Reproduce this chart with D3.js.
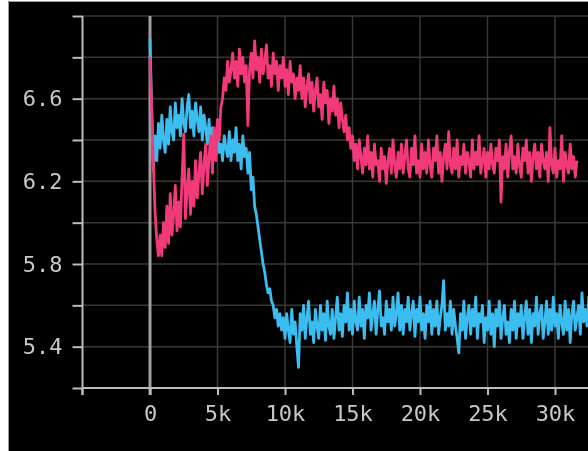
<!DOCTYPE html>
<html>
<head>
  <meta charset="utf-8"/>
  <script src="https://d3js.org/d3.v7.min.js"></script>
  <style>
    html, body {
      margin: 0;
      padding: 0;
      background: #fff;
      overflow: hidden;
    }
    svg { display: block; filter: blur(0.5px); }
    .tick text {
      font-family: "DejaVu Sans Mono", monospace;
      font-size: 22px;
      fill: #c8c8c8;
    }
  </style>
</head>
<body>
  <div id="chart"></div>
  <script>
    // logged every 125 steps
    const stepSize = 125;

    // pink run
    const pinkValues = [
      6.80, 6.55, 6.28, 6.05, 5.92, 5.84, 5.94, 5.84, 6.00, 5.88,
      6.08, 5.90, 6.14, 5.94, 6.04, 6.18, 5.96, 6.10, 5.98, 6.22,
      6.43, 6.02, 6.16, 6.26, 6.04, 6.20, 6.08, 6.30, 6.12, 6.24,
      6.34, 6.14, 6.28, 6.38, 6.18, 6.32, 6.42, 6.24, 6.46, 6.30,
      6.50, 6.40, 6.56, 6.60, 6.70, 6.64, 6.78, 6.68, 6.74, 6.82,
      6.70, 6.78, 6.66, 6.84, 6.72, 6.80, 6.68, 6.76, 6.47, 6.74,
      6.82, 6.70, 6.88, 6.74, 6.80, 6.68, 6.84, 6.72, 6.78, 6.86,
      6.70, 6.76, 6.66, 6.82, 6.72, 6.78, 6.64, 6.76, 6.70, 6.80,
      6.66, 6.74, 6.62, 6.78, 6.68, 6.72, 6.60, 6.70, 6.64, 6.76,
      6.60, 6.70, 6.56, 6.66, 6.72, 6.58, 6.68, 6.54, 6.64, 6.70,
      6.56, 6.62, 6.50, 6.68, 6.58, 6.64, 6.48, 6.60, 6.54, 6.66,
      6.52, 6.60, 6.46, 6.58, 6.50, 6.44, 6.52, 6.40, 6.46, 6.36,
      6.42, 6.30, 6.38, 6.26, 6.40, 6.32, 6.24, 6.36, 6.28, 6.42,
      6.26, 6.34, 6.22, 6.38, 6.28, 6.30, 6.20, 6.36, 6.26, 6.32,
      6.19, 6.30, 6.36, 6.24, 6.40, 6.28, 6.22, 6.34, 6.26, 6.38,
      6.24, 6.32, 6.40, 6.26, 6.22, 6.36, 6.28, 6.42, 6.24, 6.30,
      6.22, 6.38, 6.26, 6.34, 6.24, 6.40, 6.28, 6.22, 6.36, 6.30,
      6.42, 6.24, 6.34, 6.20, 6.32, 6.38, 6.26, 6.44, 6.28, 6.24,
      6.36, 6.26, 6.40, 6.22, 6.32, 6.28, 6.38, 6.24, 6.34, 6.30,
      6.22, 6.40, 6.26, 6.34, 6.28, 6.42, 6.24, 6.30, 6.36, 6.22,
      6.34, 6.26, 6.38, 6.28, 6.24, 6.36, 6.30, 6.40, 6.10, 6.32,
      6.26, 6.38, 6.22, 6.34, 6.42, 6.26, 6.32, 6.24, 6.38, 6.28,
      6.22, 6.36, 6.30, 6.40, 6.24, 6.34, 6.20, 6.32, 6.38, 6.26,
      6.34, 6.22, 6.38, 6.30, 6.26, 6.34, 6.20, 6.46, 6.28, 6.24,
      6.36, 6.22, 6.30, 6.26, 6.42, 6.20, 6.34, 6.28, 6.24, 6.38,
      6.26, 6.32, 6.22, 6.30
    ];

    // cyan run
    const cyanValues = [
      6.89, 6.55, 6.25, 6.42, 6.30, 6.48, 6.36, 6.52, 6.40, 6.34,
      6.50, 6.38, 6.56, 6.44, 6.40, 6.58, 6.46, 6.52, 6.42, 6.60,
      6.48, 6.44, 6.56, 6.62, 6.46, 6.54, 6.42, 6.58, 6.50, 6.44,
      6.56, 6.40, 6.52, 6.46, 6.38, 6.50, 6.36, 6.46, 6.40, 6.32,
      6.44, 6.34, 6.38, 6.30, 6.42, 6.36, 6.32, 6.44, 6.30, 6.40,
      6.34, 6.46, 6.30, 6.38, 6.26, 6.42, 6.32, 6.36, 6.24, 6.34,
      6.16, 6.22, 6.08, 6.04, 5.98, 5.92, 5.86, 5.80, 5.76, 5.70,
      5.66, 5.68, 5.62, 5.60, 5.54, 5.58, 5.50, 5.56, 5.48, 5.54,
      5.44, 5.56, 5.48, 5.42, 5.58, 5.46, 5.52, 5.40, 5.30, 5.56,
      5.48, 5.60, 5.44, 5.54, 5.62, 5.46, 5.52, 5.42, 5.58, 5.50,
      5.44, 5.60, 5.48, 5.56, 5.43, 5.62, 5.50, 5.46, 5.58, 5.44,
      5.54, 5.64, 5.48, 5.56, 5.45, 5.60, 5.52, 5.66, 5.48, 5.58,
      5.46, 5.62, 5.52, 5.48, 5.64, 5.50, 5.58, 5.44, 5.60, 5.54,
      5.66, 5.48, 5.56, 5.62, 5.46, 5.58, 5.67, 5.50, 5.54, 5.46,
      5.62, 5.52, 5.58, 5.48, 5.64, 5.50, 5.56, 5.66, 5.48, 5.60,
      5.46, 5.58, 5.52, 5.64, 5.48, 5.56, 5.62, 5.45, 5.58, 5.52,
      5.64, 5.48, 5.56, 5.44, 5.60, 5.52, 5.62, 5.46, 5.58, 5.50,
      5.62, 5.46, 5.54, 5.60, 5.72, 5.48, 5.56, 5.50, 5.62, 5.46,
      5.58, 5.50, 5.44, 5.37, 5.56, 5.48, 5.62, 5.44, 5.54, 5.60,
      5.46, 5.58, 5.50, 5.64, 5.44, 5.56, 5.52, 5.60, 5.42, 5.54,
      5.48, 5.62, 5.46, 5.56, 5.40, 5.58, 5.50, 5.62, 5.44, 5.54,
      5.60, 5.46, 5.52, 5.42, 5.58, 5.48, 5.62, 5.44, 5.56, 5.50,
      5.60, 5.44, 5.54, 5.62, 5.46, 5.58, 5.42, 5.56, 5.50, 5.64,
      5.46, 5.56, 5.60, 5.44, 5.52, 5.62, 5.46, 5.58, 5.48, 5.64,
      5.50, 5.56, 5.44, 5.60, 5.52, 5.46, 5.62, 5.48, 5.58, 5.42,
      5.56, 5.62, 5.48, 5.54, 5.60, 5.46, 5.66, 5.52, 5.58, 5.50,
      5.64, 5.54, 5.60, 5.52
    ];

    const xTicks = [0, 5000, 10000, 15000, 20000, 25000, 30000];
    const yTicks = [5.2, 5.4, 5.6, 5.8, 6.0, 6.2, 6.4, 6.6, 6.8, 7.0];
    const yLabels = [5.4, 5.8, 6.2, 6.6];

    const width = 588, height = 451;
    const plotLeft = 82.5, plotTop = 16, plotBottom = 388;

    const svg = d3.select("#chart").append("svg")
      .attr("width", width)
      .attr("height", height);

    // black panel with the thin grey edge
    svg.append("rect")
      .attr("x", 8).attr("y", 1)
      .attr("width", width - 8).attr("height", height - 1)
      .attr("fill", "#000");
    svg.append("path")
      .attr("d", `M8.5,${height}V1.5H${width}`)
      .attr("fill", "none")
      .attr("stroke", "#9a9a9a");

    const x = d3.scaleLinear().domain([-5000, 30000]).range([plotLeft, 555]);
    const y = d3.scaleLinear().domain([5.2, 7.0]).range([plotBottom, plotTop]);

    // grid
    svg.append("g").selectAll("line")
      .data(yTicks.filter(d => d > 5.2))
      .enter().append("line")
      .attr("x1", plotLeft).attr("x2", width)
      .attr("y1", d => y(d)).attr("y2", d => y(d))
      .attr("stroke", "#383838").attr("stroke-width", 1.5);
    svg.append("g").selectAll("line")
      .data(xTicks.filter(d => d > 0))
      .enter().append("line")
      .attr("x1", d => x(d)).attr("x2", d => x(d))
      .attr("y1", plotTop).attr("y2", plotBottom)
      .attr("stroke", "#383838").attr("stroke-width", 1.5);

    // zero line
    svg.append("line")
      .attr("x1", x(0)).attr("x2", x(0))
      .attr("y1", plotTop).attr("y2", plotBottom + 7)
      .attr("stroke", "#a0a0a0").attr("stroke-width", 3);

    // axes
    const yAxis = svg.append("g")
      .attr("transform", `translate(${plotLeft},0)`)
      .call(d3.axisLeft(y)
        .tickValues(yTicks)
        .tickSize(10)
        .tickPadding(10)
        .tickFormat(d => yLabels.some(v => Math.abs(v - d) < 1e-6) ? d3.format(".1f")(d) : ""));

    const xAxis = svg.append("g")
      .attr("transform", `translate(0,${plotBottom})`)
      .call(d3.axisBottom(x)
        .tickValues(xTicks)
        .tickSize(7)
        .tickPadding(10)
        .tickFormat(d => d === 0 ? "0" : d / 1000 + "k"));

    [yAxis, xAxis].forEach(a => {
      a.select(".domain").attr("stroke", "#bdbdbd").attr("stroke-width", 2);
      a.selectAll(".tick line").attr("stroke", "#bdbdbd").attr("stroke-width", 2);
    });
    xAxis.select(".domain").attr("d", `M${plotLeft},7V0H${width}`);
    yAxis.select(".domain").attr("d", `M0,${plotTop}V${plotBottom + 7}`);

    // series
    svg.append("clipPath").attr("id", "plot")
      .append("rect")
      .attr("x", plotLeft).attr("y", 0)
      .attr("width", width - plotLeft).attr("height", plotBottom);

    const line = d3.line()
      .x((d, i) => x(i * stepSize))
      .y(d => y(d));

    const series = [
      { values: cyanValues, color: "#3bbdf0" },
      { values: pinkValues, color: "#f23a7b" }
    ];

    svg.append("g").attr("clip-path", "url(#plot)")
      .selectAll("path")
      .data(series)
      .enter().append("path")
      .attr("d", d => line(d.values))
      .attr("fill", "none")
      .attr("stroke", d => d.color)
      .attr("stroke-width", 2.8)
      .attr("stroke-linejoin", "round");
  </script>
</body>
</html>
